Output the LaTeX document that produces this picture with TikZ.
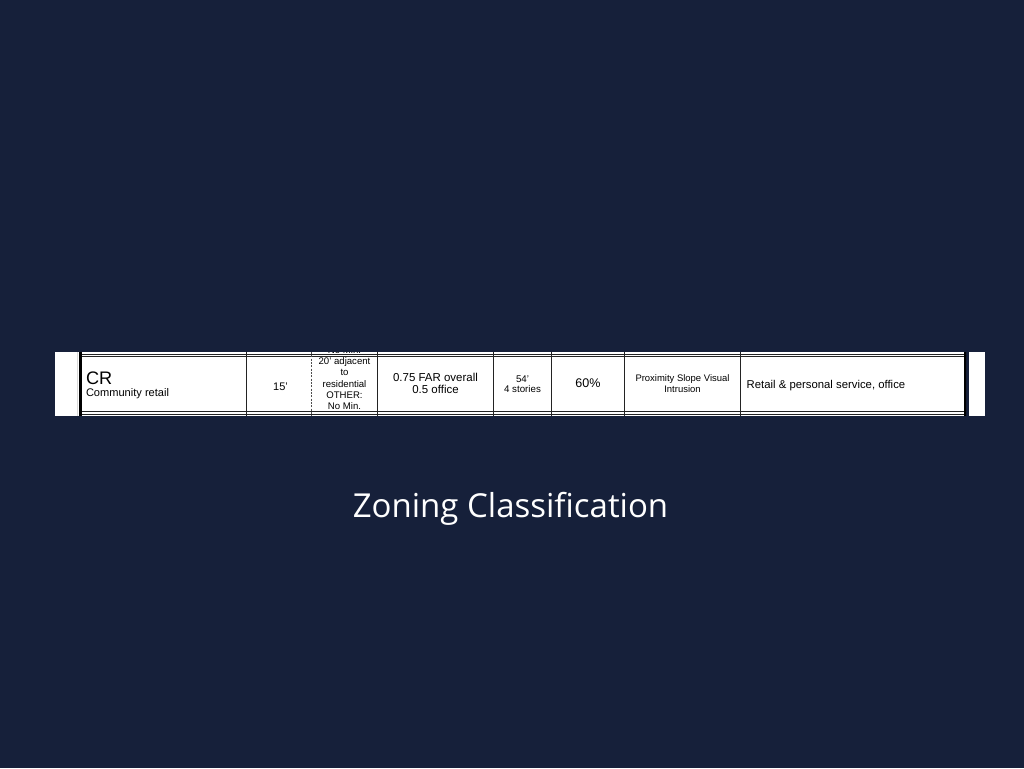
\documentclass[tikz,border=0pt]{standalone}
\usepackage{fontspec}
\setmainfont{Liberation Sans}
\newfontfamily\titlefont{Open Sans}
\definecolor{bg}{RGB}{22,32,58}
\definecolor{rule}{RGB}{35,35,35}
\newcommand{\fs}[1]{\fontsize{#1}{#1}\selectfont}
\begin{document}
\begin{tikzpicture}[x=0.75pt,y=-0.75pt,
  txt/.style={inner sep=0pt, outer sep=0pt, text=black, anchor=base},
  ltxt/.style={txt, anchor=base west},
  colrule/.style={draw=rule, line width=0.9pt},
  rowrule/.style={draw=rule, line width=0.8pt},
  thickrule/.style={draw=black, line width=2.3pt},
  dashrule/.style={draw=rule!80, line width=0.7pt, dash pattern=on 1.5pt off 1pt}]
\fill[bg] (0,0) rectangle (1024,768);
\useasboundingbox (0,0) rectangle (1024,768);
% white paper strips
\fill[white] (55,352) rectangle (966,416);
\fill[white] (969,351.5) rectangle (985,416);
\begin{scope}
\clip (55,352) rectangle (966,416);
% horizontal double rules
\coordinate (tl1) at (80,354.8); \coordinate (tr1) at (966,354.8);
\coordinate (tl2) at (80,356.6); \coordinate (tr2) at (966,356.6);
\coordinate (bl1) at (80,411.8); \coordinate (br1) at (966,411.8);
\coordinate (bl2) at (80,414.3); \coordinate (br2) at (966,414.3);
\draw[rowrule] (tl1) -- (tr1);
\draw[rowrule] (tl2) -- (tr2);
\draw[rowrule] (bl1) -- (br1);
\draw[rowrule] (bl2) -- (br2);
% column rules
\foreach \x in {246.5,377.5,493.5,551.5,624.5,740.5}{
  \draw[colrule] (\x,352) -- (\x,416);
}
\draw[dashrule] (311.5,352) -- (311.5,416);
\draw[draw=gray!30, line width=0.4pt] (77.5,352) -- (77.5,416);
\draw[thickrule] (80.5,352) -- (80.5,416);
\draw[thickrule] (965.3,352) -- (965.3,416);
% texts
\node[ltxt] (cr) at (86,384) {\fs{13.6pt}CR};
\node[ltxt] (crname) at (86,396.5) {\fs{8.3pt}Community retail};
\node[txt] (front) at (280.5,390.5) {\fs{8.25pt}15’};
\node[txt] (s0) at (344.5,353.6) {\fs{7.2pt}No Min.};
\node[txt] (s1) at (344.5,364.2) {\fs{7.2pt}20’ adjacent};
\node[txt] (s2) at (344.5,375.2) {\fs{7.2pt}to};
\node[txt] (s3) at (344.5,387.5) {\fs{7.2pt}residential};
\node[txt] (s4) at (344.5,398.3) {\fs{7.2pt}OTHER:};
\node[txt] (s5) at (344.5,409.1) {\fs{7.2pt}No Min.};
\node[txt] (far1) at (435.5,381.7) {\fs{8.6pt}0.75 FAR overall};
\node[txt] (far2) at (435.5,393.3) {\fs{8.6pt}0.5 office};
\node[txt] (h1) at (522.5,382.3) {\fs{7.3pt}54’};
\node[txt] (h2) at (522.5,392.7) {\fs{7.3pt}4 stories};
\node[txt] (cov) at (588,387.7) {\fs{9.4pt}60\%};
\node[txt] (p1) at (682.5,381.8) {\fs{7.1pt}Proximity Slope Visual};
\node[txt] (p2) at (682.5,392.6) {\fs{7.1pt}Intrusion};
\node[ltxt] (use) at (746.7,388.3) {\fs{8.5pt}Retail \& personal service, office};
\end{scope}
% title
\node[inner sep=0pt, anchor=base, text=white] (title) at (510.5,517)
  {\titlefont\fs{24.75pt}Zoning Classification};
\end{tikzpicture}
\end{document}
